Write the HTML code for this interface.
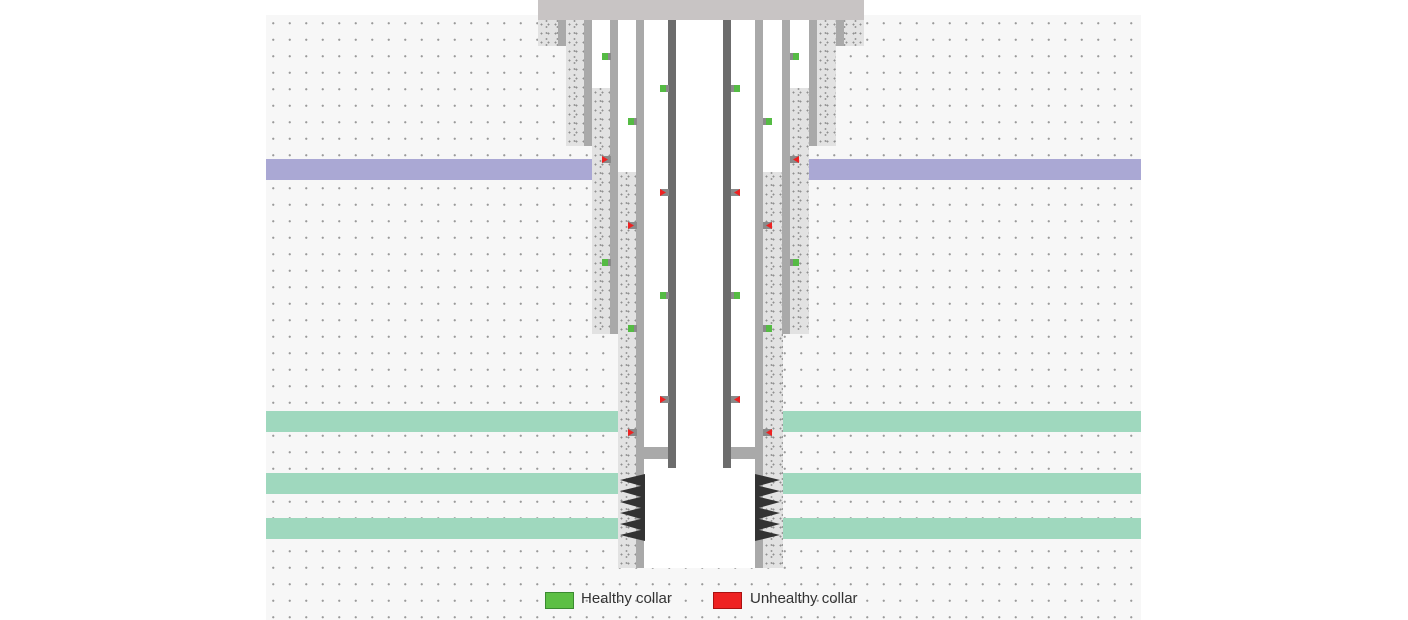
<!DOCTYPE html>
<html><head><meta charset="utf-8"><style>
*{margin:0;padding:0}
body{width:1408px;height:620px;background:#fff;position:relative;overflow:hidden;font-family:"Liberation Sans",sans-serif}
div{position:absolute}
.bg{left:266px;top:15px;width:875px;height:605px;background-color:#f7f7f7;background-image:radial-gradient(circle,#9a9a9a 0.9px,transparent 1.3px);background-size:16.5px 16.5px;background-position:-1px 0px}
.cem{background-color:#e2e2e2;background-image:radial-gradient(circle,#8f8f8f 0.8px,transparent 1.1px),radial-gradient(circle,#9a9a9a 0.8px,transparent 1.1px);background-size:7px 9px,11px 6px;background-position:0 0,3px 4px}
.cs{background:#a9a9a9}
.tb{background:#6c6c6c}
.w{background:#fff}
.pur{background:#aaa8d4;height:21px;top:159px}
.grn{background:#9fd8be;height:21px}
.col{width:9px;height:7px;background:#8a8a8a}
.col i{position:absolute;top:0;width:6px;height:7px;display:block}
.g i{background:#55bb44}
.r i{background:#ee2222}
.L i{left:0}.R i{right:0}
.L.r i{clip-path:polygon(0 0,100% 50%,0 100%)}
.R.r i{clip-path:polygon(100% 0,0 50%,100% 100%)}
</style></head><body>
<div class="bg"></div>
<div class="pur" style="left:266px;width:326px"></div>
<div class="pur" style="left:809px;width:332px"></div>
<div class="grn" style="left:266px;width:352px;top:411px"></div>
<div class="grn" style="left:783px;width:358px;top:411px"></div>
<div class="grn" style="left:266px;width:352px;top:473px"></div>
<div class="grn" style="left:783px;width:358px;top:473px"></div>
<div class="grn" style="left:266px;width:352px;top:518px"></div>
<div class="grn" style="left:783px;width:358px;top:518px"></div>
<div class="w" style="left:584px;top:20px;width:234px;height:126px"></div>
<div class="w" style="left:610px;top:20px;width:182px;height:314px"></div>
<div class="w" style="left:636px;top:20px;width:130px;height:548px"></div>
<div class="cem" style="left:538px;top:20px;width:28px;height:26px"></div>
<div class="cem" style="left:836px;top:20px;width:28px;height:26px"></div>
<div class="cem" style="left:566px;top:20px;width:18px;height:126px"></div>
<div class="cem" style="left:817px;top:20px;width:19px;height:126px"></div>
<div class="cem" style="left:592px;top:88px;width:18px;height:246px"></div>
<div class="cem" style="left:790px;top:88px;width:19px;height:246px"></div>
<div class="cem" style="left:618px;top:172px;width:18px;height:396px"></div>
<div class="cem" style="left:763px;top:172px;width:20px;height:396px"></div>
<div class="cs" style="left:558px;top:20px;width:8px;height:26px"></div>
<div class="cs" style="left:836px;top:20px;width:8px;height:26px"></div>
<div class="cs" style="left:584px;top:20px;width:8px;height:126px"></div>
<div class="cs" style="left:809px;top:20px;width:8px;height:126px"></div>
<div class="cs" style="left:610px;top:20px;width:8px;height:314px"></div>
<div class="cs" style="left:782px;top:20px;width:8px;height:314px"></div>
<div class="cs" style="left:636px;top:20px;width:8px;height:548px"></div>
<div class="cs" style="left:755px;top:20px;width:8px;height:548px"></div>
<div class="cs" style="left:644px;top:447px;width:24px;height:12px"></div>
<div class="cs" style="left:731px;top:447px;width:24px;height:12px"></div>
<div class="tb" style="left:668px;top:20px;width:8px;height:448px"></div>
<div class="tb" style="left:723px;top:20px;width:8px;height:448px"></div>
<div style="left:538px;top:0;width:326px;height:20px;background:#c8c4c4"></div>
<div class="col g L" style="left:602px;top:53px"><i></i></div>
<div class="col r L" style="left:602px;top:156px"><i></i></div>
<div class="col g L" style="left:602px;top:259px"><i></i></div>
<div class="col g L" style="left:628px;top:118px"><i></i></div>
<div class="col r L" style="left:628px;top:222px"><i></i></div>
<div class="col g L" style="left:628px;top:325px"><i></i></div>
<div class="col r L" style="left:628px;top:429px"><i></i></div>
<div class="col g L" style="left:660px;top:85px"><i></i></div>
<div class="col r L" style="left:660px;top:189px"><i></i></div>
<div class="col g L" style="left:660px;top:292px"><i></i></div>
<div class="col r L" style="left:660px;top:396px"><i></i></div>
<div class="col g R" style="left:790px;top:53px"><i></i></div>
<div class="col r R" style="left:790px;top:156px"><i></i></div>
<div class="col g R" style="left:790px;top:259px"><i></i></div>
<div class="col g R" style="left:763px;top:118px"><i></i></div>
<div class="col r R" style="left:763px;top:222px"><i></i></div>
<div class="col g R" style="left:763px;top:325px"><i></i></div>
<div class="col r R" style="left:763px;top:429px"><i></i></div>
<div class="col g R" style="left:731px;top:85px"><i></i></div>
<div class="col r R" style="left:731px;top:189px"><i></i></div>
<div class="col g R" style="left:731px;top:292px"><i></i></div>
<div class="col r R" style="left:731px;top:396px"><i></i></div>
<svg style="position:absolute;left:0;top:0" width="1408" height="620">
<g fill="#333">
<polygon points="645,474 620,480 645,487"/>
<polygon points="645,485 620,491 645,498"/>
<polygon points="645,496 620,502 645,509"/>
<polygon points="645,507 620,513 645,520"/>
<polygon points="645,518 620,524 645,531"/>
<polygon points="645,529 620,535 645,541"/>
<polygon points="755,474 780,480 755,487"/>
<polygon points="755,485 780,491 755,498"/>
<polygon points="755,496 780,502 755,509"/>
<polygon points="755,507 780,513 755,520"/>
<polygon points="755,518 780,524 755,531"/>
<polygon points="755,529 780,535 755,541"/>
</g></svg>
<div style="left:545px;top:592px;width:27px;height:15px;background:#5cbf44;border:1px solid #3a8a30"></div>
<div style="left:581px;top:590px;font-size:15px;color:#333">Healthy collar</div>
<div style="left:713px;top:592px;width:27px;height:15px;background:#ee2222;border:1px solid #aa1111"></div>
<div style="left:750px;top:590px;font-size:15px;color:#333">Unhealthy collar</div>
</body></html>
